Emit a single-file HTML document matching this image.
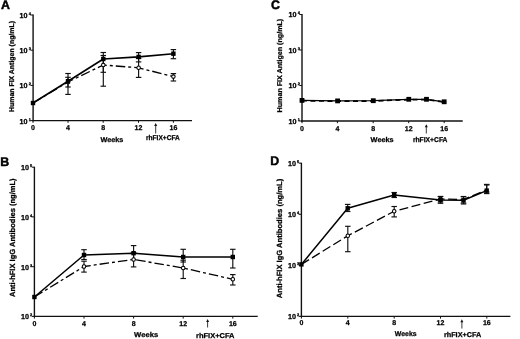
<!DOCTYPE html>
<html><head><meta charset="utf-8"><style>
html,body{margin:0;padding:0;background:#fff;}
svg{display:block;filter:grayscale(1) blur(0.3px);text-rendering:geometricPrecision;}
</style></head><body>
<svg width="520" height="339" viewBox="0 0 520 339">
<rect width="520" height="339" fill="#fff"/>
<text x="0.9" y="9.0" font-size="12.4" text-anchor="start" font-family="'Liberation Sans', sans-serif" font-weight="bold" stroke="#000" stroke-width="0.45" >A</text>
<line x1="33.1" y1="14.5" x2="33.1" y2="121.3" stroke="#111" stroke-width="1.4" stroke-linecap="butt"/>
<line x1="32.4" y1="120.6" x2="192.0" y2="120.6" stroke="#111" stroke-width="1.4" stroke-linecap="butt"/>
<line x1="30.5" y1="15" x2="33.1" y2="15" stroke="#111" stroke-width="1.0" stroke-linecap="butt"/>
<text x="27.6" y="17.9" font-size="7.2" text-anchor="end" font-family="'Liberation Sans', sans-serif" font-weight="bold" stroke="#000" stroke-width="0.25" >10</text>
<text x="28.8" y="14.9" font-size="3.9" text-anchor="start" font-family="'Liberation Sans', sans-serif" font-weight="bold" stroke="#000" stroke-width="0.25" >4</text>
<line x1="30.5" y1="50.2" x2="33.1" y2="50.2" stroke="#111" stroke-width="1.0" stroke-linecap="butt"/>
<text x="27.6" y="53.1" font-size="7.2" text-anchor="end" font-family="'Liberation Sans', sans-serif" font-weight="bold" stroke="#000" stroke-width="0.25" >10</text>
<text x="28.8" y="50.1" font-size="3.9" text-anchor="start" font-family="'Liberation Sans', sans-serif" font-weight="bold" stroke="#000" stroke-width="0.25" >3</text>
<line x1="30.5" y1="85.4" x2="33.1" y2="85.4" stroke="#111" stroke-width="1.0" stroke-linecap="butt"/>
<text x="27.6" y="88.30000000000001" font-size="7.2" text-anchor="end" font-family="'Liberation Sans', sans-serif" font-weight="bold" stroke="#000" stroke-width="0.25" >10</text>
<text x="28.8" y="85.30000000000001" font-size="3.9" text-anchor="start" font-family="'Liberation Sans', sans-serif" font-weight="bold" stroke="#000" stroke-width="0.25" >2</text>
<line x1="30.5" y1="120.6" x2="33.1" y2="120.6" stroke="#111" stroke-width="1.0" stroke-linecap="butt"/>
<text x="27.6" y="123.5" font-size="7.2" text-anchor="end" font-family="'Liberation Sans', sans-serif" font-weight="bold" stroke="#000" stroke-width="0.25" >10</text>
<text x="28.8" y="120.5" font-size="3.9" text-anchor="start" font-family="'Liberation Sans', sans-serif" font-weight="bold" stroke="#000" stroke-width="0.25" >1</text>
<line x1="33" y1="120.6" x2="33" y2="122.8" stroke="#111" stroke-width="1.0" stroke-linecap="butt"/>
<text x="33" y="130.2" font-size="7" text-anchor="middle" font-family="'Liberation Sans', sans-serif" font-weight="bold" stroke="#000" stroke-width="0.25" >0</text>
<line x1="68" y1="120.6" x2="68" y2="122.8" stroke="#111" stroke-width="1.0" stroke-linecap="butt"/>
<text x="68" y="130.2" font-size="7" text-anchor="middle" font-family="'Liberation Sans', sans-serif" font-weight="bold" stroke="#000" stroke-width="0.25" >4</text>
<line x1="103.2" y1="120.6" x2="103.2" y2="122.8" stroke="#111" stroke-width="1.0" stroke-linecap="butt"/>
<text x="103.2" y="130.2" font-size="7" text-anchor="middle" font-family="'Liberation Sans', sans-serif" font-weight="bold" stroke="#000" stroke-width="0.25" >8</text>
<line x1="138.5" y1="120.6" x2="138.5" y2="122.8" stroke="#111" stroke-width="1.0" stroke-linecap="butt"/>
<text x="138.5" y="130.2" font-size="7" text-anchor="middle" font-family="'Liberation Sans', sans-serif" font-weight="bold" stroke="#000" stroke-width="0.25" >12</text>
<line x1="173.4" y1="120.6" x2="173.4" y2="122.8" stroke="#111" stroke-width="1.0" stroke-linecap="butt"/>
<text x="173.4" y="130.2" font-size="7" text-anchor="middle" font-family="'Liberation Sans', sans-serif" font-weight="bold" stroke="#000" stroke-width="0.25" >16</text>
<text x="0" y="0" font-size="7" text-anchor="middle" font-family="'Liberation Sans', sans-serif" font-weight="bold" stroke="#000" stroke-width="0.25" textLength="91" lengthAdjust="spacingAndGlyphs" transform="translate(14.0,66.5) rotate(-90)">Human FIX Antigen (ng/mL)</text>
<text x="111.95" y="142.0" font-size="7" text-anchor="middle" font-family="'Liberation Sans', sans-serif" font-weight="bold" stroke="#000" stroke-width="0.25" textLength="22.900000000000006" lengthAdjust="spacingAndGlyphs">Weeks</text>
<text x="162.9" y="140.2" font-size="7" text-anchor="middle" font-family="'Liberation Sans', sans-serif" font-weight="bold" stroke="#000" stroke-width="0.25" textLength="33.80000000000001" lengthAdjust="spacingAndGlyphs">rhFIX+CFA</text>
<line x1="155.7" y1="125" x2="155.7" y2="133.5" stroke="#222" stroke-width="0.9" stroke-linecap="butt"/>
<path d="M154.2,126.0 L155.7,123 L157.2,126.0 Z" fill="#111"/>
<text x="0.3" y="165.6" font-size="12.4" text-anchor="start" font-family="'Liberation Sans', sans-serif" font-weight="bold" stroke="#000" stroke-width="0.45" >B</text>
<line x1="34.4" y1="166.7" x2="34.4" y2="317.09999999999997" stroke="#111" stroke-width="1.4" stroke-linecap="butt"/>
<line x1="33.699999999999996" y1="316.4" x2="257.7" y2="316.4" stroke="#111" stroke-width="1.4" stroke-linecap="butt"/>
<line x1="31.799999999999997" y1="167.2" x2="34.4" y2="167.2" stroke="#111" stroke-width="1.0" stroke-linecap="butt"/>
<text x="28.9" y="170.1" font-size="7.2" text-anchor="end" font-family="'Liberation Sans', sans-serif" font-weight="bold" stroke="#000" stroke-width="0.25" >10</text>
<text x="30.099999999999998" y="167.1" font-size="3.9" text-anchor="start" font-family="'Liberation Sans', sans-serif" font-weight="bold" stroke="#000" stroke-width="0.25" >5</text>
<line x1="31.799999999999997" y1="216.9" x2="34.4" y2="216.9" stroke="#111" stroke-width="1.0" stroke-linecap="butt"/>
<text x="28.9" y="219.8" font-size="7.2" text-anchor="end" font-family="'Liberation Sans', sans-serif" font-weight="bold" stroke="#000" stroke-width="0.25" >10</text>
<text x="30.099999999999998" y="216.8" font-size="3.9" text-anchor="start" font-family="'Liberation Sans', sans-serif" font-weight="bold" stroke="#000" stroke-width="0.25" >4</text>
<line x1="31.799999999999997" y1="266.7" x2="34.4" y2="266.7" stroke="#111" stroke-width="1.0" stroke-linecap="butt"/>
<text x="28.9" y="269.59999999999997" font-size="7.2" text-anchor="end" font-family="'Liberation Sans', sans-serif" font-weight="bold" stroke="#000" stroke-width="0.25" >10</text>
<text x="30.099999999999998" y="266.59999999999997" font-size="3.9" text-anchor="start" font-family="'Liberation Sans', sans-serif" font-weight="bold" stroke="#000" stroke-width="0.25" >3</text>
<line x1="31.799999999999997" y1="316.4" x2="34.4" y2="316.4" stroke="#111" stroke-width="1.0" stroke-linecap="butt"/>
<text x="28.9" y="319.29999999999995" font-size="7.2" text-anchor="end" font-family="'Liberation Sans', sans-serif" font-weight="bold" stroke="#000" stroke-width="0.25" >10</text>
<text x="30.099999999999998" y="316.29999999999995" font-size="3.9" text-anchor="start" font-family="'Liberation Sans', sans-serif" font-weight="bold" stroke="#000" stroke-width="0.25" >2</text>
<line x1="34.4" y1="316.4" x2="34.4" y2="318.59999999999997" stroke="#111" stroke-width="1.0" stroke-linecap="butt"/>
<text x="34.4" y="326.3" font-size="7" text-anchor="middle" font-family="'Liberation Sans', sans-serif" font-weight="bold" stroke="#000" stroke-width="0.25" >0</text>
<line x1="84" y1="316.4" x2="84" y2="318.59999999999997" stroke="#111" stroke-width="1.0" stroke-linecap="butt"/>
<text x="84" y="326.3" font-size="7" text-anchor="middle" font-family="'Liberation Sans', sans-serif" font-weight="bold" stroke="#000" stroke-width="0.25" >4</text>
<line x1="133.6" y1="316.4" x2="133.6" y2="318.59999999999997" stroke="#111" stroke-width="1.0" stroke-linecap="butt"/>
<text x="133.6" y="326.3" font-size="7" text-anchor="middle" font-family="'Liberation Sans', sans-serif" font-weight="bold" stroke="#000" stroke-width="0.25" >8</text>
<line x1="183.2" y1="316.4" x2="183.2" y2="318.59999999999997" stroke="#111" stroke-width="1.0" stroke-linecap="butt"/>
<text x="183.2" y="326.3" font-size="7" text-anchor="middle" font-family="'Liberation Sans', sans-serif" font-weight="bold" stroke="#000" stroke-width="0.25" >12</text>
<line x1="232.8" y1="316.4" x2="232.8" y2="318.59999999999997" stroke="#111" stroke-width="1.0" stroke-linecap="butt"/>
<text x="232.8" y="326.3" font-size="7" text-anchor="middle" font-family="'Liberation Sans', sans-serif" font-weight="bold" stroke="#000" stroke-width="0.25" >16</text>
<text x="0" y="0" font-size="7.5" text-anchor="middle" font-family="'Liberation Sans', sans-serif" font-weight="bold" stroke="#000" stroke-width="0.25" textLength="118.6" lengthAdjust="spacingAndGlyphs" transform="translate(14.7,237.7) rotate(-90)">Anti-hFIX IgG Antibodies (ng/mL)</text>
<text x="146.14999999999998" y="337.2" font-size="7" text-anchor="middle" font-family="'Liberation Sans', sans-serif" font-weight="bold" stroke="#000" stroke-width="0.25" textLength="24.099999999999994" lengthAdjust="spacingAndGlyphs">Weeks</text>
<text x="215.25" y="337.6" font-size="7" text-anchor="middle" font-family="'Liberation Sans', sans-serif" font-weight="bold" stroke="#000" stroke-width="0.25" textLength="38.5" lengthAdjust="spacingAndGlyphs">rhFIX+CFA</text>
<line x1="207.6" y1="321" x2="207.6" y2="327.5" stroke="#222" stroke-width="0.9" stroke-linecap="butt"/>
<path d="M206.1,322.0 L207.6,319 L209.1,322.0 Z" fill="#111"/>
<text x="271.0" y="9.0" font-size="12.4" text-anchor="start" font-family="'Liberation Sans', sans-serif" font-weight="bold" stroke="#000" stroke-width="0.45" >C</text>
<line x1="302.0" y1="14.0" x2="302.0" y2="121.7" stroke="#111" stroke-width="1.4" stroke-linecap="butt"/>
<line x1="301.3" y1="121.0" x2="462.7" y2="121.0" stroke="#111" stroke-width="1.4" stroke-linecap="butt"/>
<line x1="299.4" y1="14.5" x2="302.0" y2="14.5" stroke="#111" stroke-width="1.0" stroke-linecap="butt"/>
<text x="296.5" y="17.4" font-size="7.2" text-anchor="end" font-family="'Liberation Sans', sans-serif" font-weight="bold" stroke="#000" stroke-width="0.25" >10</text>
<text x="297.7" y="14.4" font-size="3.9" text-anchor="start" font-family="'Liberation Sans', sans-serif" font-weight="bold" stroke="#000" stroke-width="0.25" >4</text>
<line x1="299.4" y1="50.0" x2="302.0" y2="50.0" stroke="#111" stroke-width="1.0" stroke-linecap="butt"/>
<text x="296.5" y="52.9" font-size="7.2" text-anchor="end" font-family="'Liberation Sans', sans-serif" font-weight="bold" stroke="#000" stroke-width="0.25" >10</text>
<text x="297.7" y="49.9" font-size="3.9" text-anchor="start" font-family="'Liberation Sans', sans-serif" font-weight="bold" stroke="#000" stroke-width="0.25" >3</text>
<line x1="299.4" y1="85.5" x2="302.0" y2="85.5" stroke="#111" stroke-width="1.0" stroke-linecap="butt"/>
<text x="296.5" y="88.4" font-size="7.2" text-anchor="end" font-family="'Liberation Sans', sans-serif" font-weight="bold" stroke="#000" stroke-width="0.25" >10</text>
<text x="297.7" y="85.4" font-size="3.9" text-anchor="start" font-family="'Liberation Sans', sans-serif" font-weight="bold" stroke="#000" stroke-width="0.25" >2</text>
<line x1="299.4" y1="121.0" x2="302.0" y2="121.0" stroke="#111" stroke-width="1.0" stroke-linecap="butt"/>
<text x="296.5" y="123.9" font-size="7.2" text-anchor="end" font-family="'Liberation Sans', sans-serif" font-weight="bold" stroke="#000" stroke-width="0.25" >10</text>
<text x="297.7" y="120.9" font-size="3.9" text-anchor="start" font-family="'Liberation Sans', sans-serif" font-weight="bold" stroke="#000" stroke-width="0.25" >1</text>
<line x1="302.0" y1="121.0" x2="302.0" y2="123.2" stroke="#111" stroke-width="1.0" stroke-linecap="butt"/>
<text x="302.0" y="130.5" font-size="7" text-anchor="middle" font-family="'Liberation Sans', sans-serif" font-weight="bold" stroke="#000" stroke-width="0.25" >0</text>
<line x1="337.4" y1="121.0" x2="337.4" y2="123.2" stroke="#111" stroke-width="1.0" stroke-linecap="butt"/>
<text x="337.4" y="130.5" font-size="7" text-anchor="middle" font-family="'Liberation Sans', sans-serif" font-weight="bold" stroke="#000" stroke-width="0.25" >4</text>
<line x1="373.2" y1="121.0" x2="373.2" y2="123.2" stroke="#111" stroke-width="1.0" stroke-linecap="butt"/>
<text x="373.2" y="130.5" font-size="7" text-anchor="middle" font-family="'Liberation Sans', sans-serif" font-weight="bold" stroke="#000" stroke-width="0.25" >8</text>
<line x1="408.7" y1="121.0" x2="408.7" y2="123.2" stroke="#111" stroke-width="1.0" stroke-linecap="butt"/>
<text x="408.7" y="130.5" font-size="7" text-anchor="middle" font-family="'Liberation Sans', sans-serif" font-weight="bold" stroke="#000" stroke-width="0.25" >12</text>
<line x1="444.2" y1="121.0" x2="444.2" y2="123.2" stroke="#111" stroke-width="1.0" stroke-linecap="butt"/>
<text x="444.2" y="130.5" font-size="7" text-anchor="middle" font-family="'Liberation Sans', sans-serif" font-weight="bold" stroke="#000" stroke-width="0.25" >16</text>
<text x="0" y="0" font-size="7" text-anchor="middle" font-family="'Liberation Sans', sans-serif" font-weight="bold" stroke="#000" stroke-width="0.25" textLength="93.7" lengthAdjust="spacingAndGlyphs" transform="translate(282.4,65.6) rotate(-90)">Human FIX Antigen (ng/mL)</text>
<text x="382.15" y="142.0" font-size="7" text-anchor="middle" font-family="'Liberation Sans', sans-serif" font-weight="bold" stroke="#000" stroke-width="0.25" textLength="23.099999999999966" lengthAdjust="spacingAndGlyphs">Weeks</text>
<text x="430.2" y="141.6" font-size="7" text-anchor="middle" font-family="'Liberation Sans', sans-serif" font-weight="bold" stroke="#000" stroke-width="0.25" textLength="34.60000000000002" lengthAdjust="spacingAndGlyphs">rhFIX+CFA</text>
<line x1="426.3" y1="126.2" x2="426.3" y2="133.5" stroke="#222" stroke-width="0.9" stroke-linecap="butt"/>
<path d="M424.8,127.2 L426.3,124.2 L427.8,127.2 Z" fill="#111"/>
<text x="270.3" y="165.3" font-size="12.4" text-anchor="start" font-family="'Liberation Sans', sans-serif" font-weight="bold" stroke="#000" stroke-width="0.45" >D</text>
<line x1="301.4" y1="162.7" x2="301.4" y2="317.09999999999997" stroke="#111" stroke-width="1.4" stroke-linecap="butt"/>
<line x1="300.7" y1="316.4" x2="510.4" y2="316.4" stroke="#111" stroke-width="1.4" stroke-linecap="butt"/>
<line x1="298.79999999999995" y1="163.2" x2="301.4" y2="163.2" stroke="#111" stroke-width="1.0" stroke-linecap="butt"/>
<text x="295.9" y="166.1" font-size="7.2" text-anchor="end" font-family="'Liberation Sans', sans-serif" font-weight="bold" stroke="#000" stroke-width="0.25" >10</text>
<text x="297.09999999999997" y="163.1" font-size="3.9" text-anchor="start" font-family="'Liberation Sans', sans-serif" font-weight="bold" stroke="#000" stroke-width="0.25" >5</text>
<line x1="298.79999999999995" y1="214.3" x2="301.4" y2="214.3" stroke="#111" stroke-width="1.0" stroke-linecap="butt"/>
<text x="295.9" y="217.20000000000002" font-size="7.2" text-anchor="end" font-family="'Liberation Sans', sans-serif" font-weight="bold" stroke="#000" stroke-width="0.25" >10</text>
<text x="297.09999999999997" y="214.20000000000002" font-size="3.9" text-anchor="start" font-family="'Liberation Sans', sans-serif" font-weight="bold" stroke="#000" stroke-width="0.25" >4</text>
<line x1="298.79999999999995" y1="265.3" x2="301.4" y2="265.3" stroke="#111" stroke-width="1.0" stroke-linecap="butt"/>
<text x="295.9" y="268.2" font-size="7.2" text-anchor="end" font-family="'Liberation Sans', sans-serif" font-weight="bold" stroke="#000" stroke-width="0.25" >10</text>
<text x="297.09999999999997" y="265.2" font-size="3.9" text-anchor="start" font-family="'Liberation Sans', sans-serif" font-weight="bold" stroke="#000" stroke-width="0.25" >3</text>
<line x1="298.79999999999995" y1="316.4" x2="301.4" y2="316.4" stroke="#111" stroke-width="1.0" stroke-linecap="butt"/>
<text x="295.9" y="319.29999999999995" font-size="7.2" text-anchor="end" font-family="'Liberation Sans', sans-serif" font-weight="bold" stroke="#000" stroke-width="0.25" >10</text>
<text x="297.09999999999997" y="316.29999999999995" font-size="3.9" text-anchor="start" font-family="'Liberation Sans', sans-serif" font-weight="bold" stroke="#000" stroke-width="0.25" >2</text>
<line x1="301.4" y1="316.4" x2="301.4" y2="318.59999999999997" stroke="#111" stroke-width="1.0" stroke-linecap="butt"/>
<text x="301.4" y="325.2" font-size="7" text-anchor="middle" font-family="'Liberation Sans', sans-serif" font-weight="bold" stroke="#000" stroke-width="0.25" >0</text>
<line x1="347.8" y1="316.4" x2="347.8" y2="318.59999999999997" stroke="#111" stroke-width="1.0" stroke-linecap="butt"/>
<text x="347.8" y="325.2" font-size="7" text-anchor="middle" font-family="'Liberation Sans', sans-serif" font-weight="bold" stroke="#000" stroke-width="0.25" >4</text>
<line x1="394.2" y1="316.4" x2="394.2" y2="318.59999999999997" stroke="#111" stroke-width="1.0" stroke-linecap="butt"/>
<text x="394.2" y="325.2" font-size="7" text-anchor="middle" font-family="'Liberation Sans', sans-serif" font-weight="bold" stroke="#000" stroke-width="0.25" >8</text>
<line x1="440.5" y1="316.4" x2="440.5" y2="318.59999999999997" stroke="#111" stroke-width="1.0" stroke-linecap="butt"/>
<text x="440.5" y="325.2" font-size="7" text-anchor="middle" font-family="'Liberation Sans', sans-serif" font-weight="bold" stroke="#000" stroke-width="0.25" >12</text>
<line x1="486.8" y1="316.4" x2="486.8" y2="318.59999999999997" stroke="#111" stroke-width="1.0" stroke-linecap="butt"/>
<text x="486.8" y="325.2" font-size="7" text-anchor="middle" font-family="'Liberation Sans', sans-serif" font-weight="bold" stroke="#000" stroke-width="0.25" >16</text>
<text x="0" y="0" font-size="7.5" text-anchor="middle" font-family="'Liberation Sans', sans-serif" font-weight="bold" stroke="#000" stroke-width="0.25" textLength="119.5" lengthAdjust="spacingAndGlyphs" transform="translate(282.0,238.5) rotate(-90)">Anti-hFIX IgG Antibodies (ng/mL)</text>
<text x="405.70000000000005" y="335.6" font-size="7" text-anchor="middle" font-family="'Liberation Sans', sans-serif" font-weight="bold" stroke="#000" stroke-width="0.25" textLength="21.80000000000001" lengthAdjust="spacingAndGlyphs">Weeks</text>
<text x="462.6" y="337.0" font-size="7" text-anchor="middle" font-family="'Liberation Sans', sans-serif" font-weight="bold" stroke="#000" stroke-width="0.25" textLength="37.400000000000034" lengthAdjust="spacingAndGlyphs">rhFIX+CFA</text>
<line x1="461.9" y1="321.3" x2="461.9" y2="328.5" stroke="#222" stroke-width="0.9" stroke-linecap="butt"/>
<path d="M460.4,322.3 L461.9,319.3 L463.4,322.3 Z" fill="#111"/>
<polyline points="33,103 68,82 103.3,65 138.6,67.8 173.4,76.6" fill="none" stroke="#000" stroke-width="1.3" stroke-linejoin="round" stroke-dasharray="9.5,3,3,3"/>
<polyline points="33,103 68,81.2 103.3,59 138.6,56.9 173.4,53.7" fill="none" stroke="#000" stroke-width="1.6" stroke-linejoin="round"/>
<line x1="68" y1="77.3" x2="68" y2="94.4" stroke="#111" stroke-width="1.15" stroke-linecap="butt"/>
<line x1="65.25" y1="77.3" x2="70.75" y2="77.3" stroke="#111" stroke-width="1.15" stroke-linecap="butt"/>
<line x1="65.25" y1="94.4" x2="70.75" y2="94.4" stroke="#111" stroke-width="1.15" stroke-linecap="butt"/>
<line x1="103.3" y1="55.5" x2="103.3" y2="86.2" stroke="#111" stroke-width="1.15" stroke-linecap="butt"/>
<line x1="100.55" y1="55.5" x2="106.05" y2="55.5" stroke="#111" stroke-width="1.15" stroke-linecap="butt"/>
<line x1="100.55" y1="86.2" x2="106.05" y2="86.2" stroke="#111" stroke-width="1.15" stroke-linecap="butt"/>
<line x1="138.6" y1="58.5" x2="138.6" y2="77.4" stroke="#111" stroke-width="1.15" stroke-linecap="butt"/>
<line x1="135.85" y1="58.5" x2="141.35" y2="58.5" stroke="#111" stroke-width="1.15" stroke-linecap="butt"/>
<line x1="135.85" y1="77.4" x2="141.35" y2="77.4" stroke="#111" stroke-width="1.15" stroke-linecap="butt"/>
<line x1="173.4" y1="73.6" x2="173.4" y2="81" stroke="#111" stroke-width="1.15" stroke-linecap="butt"/>
<line x1="170.65" y1="73.6" x2="176.15" y2="73.6" stroke="#111" stroke-width="1.15" stroke-linecap="butt"/>
<line x1="170.65" y1="81" x2="176.15" y2="81" stroke="#111" stroke-width="1.15" stroke-linecap="butt"/>
<line x1="68" y1="73.5" x2="68" y2="87" stroke="#111" stroke-width="1.15" stroke-linecap="butt"/>
<line x1="65.25" y1="73.5" x2="70.75" y2="73.5" stroke="#111" stroke-width="1.15" stroke-linecap="butt"/>
<line x1="65.25" y1="87" x2="70.75" y2="87" stroke="#111" stroke-width="1.15" stroke-linecap="butt"/>
<line x1="103.3" y1="52.5" x2="103.3" y2="72.3" stroke="#111" stroke-width="1.15" stroke-linecap="butt"/>
<line x1="100.55" y1="52.5" x2="106.05" y2="52.5" stroke="#111" stroke-width="1.15" stroke-linecap="butt"/>
<line x1="100.55" y1="72.3" x2="106.05" y2="72.3" stroke="#111" stroke-width="1.15" stroke-linecap="butt"/>
<line x1="138.6" y1="52.6" x2="138.6" y2="61.9" stroke="#111" stroke-width="1.15" stroke-linecap="butt"/>
<line x1="135.85" y1="52.6" x2="141.35" y2="52.6" stroke="#111" stroke-width="1.15" stroke-linecap="butt"/>
<line x1="135.85" y1="61.9" x2="141.35" y2="61.9" stroke="#111" stroke-width="1.15" stroke-linecap="butt"/>
<line x1="173.4" y1="49.6" x2="173.4" y2="58.7" stroke="#111" stroke-width="1.15" stroke-linecap="butt"/>
<line x1="170.65" y1="49.6" x2="176.15" y2="49.6" stroke="#111" stroke-width="1.15" stroke-linecap="butt"/>
<line x1="170.65" y1="58.7" x2="176.15" y2="58.7" stroke="#111" stroke-width="1.15" stroke-linecap="butt"/>
<circle cx="68" cy="82" r="1.75" fill="#fff" stroke="#000" stroke-width="1.05"/>
<circle cx="103.3" cy="65" r="1.75" fill="#fff" stroke="#000" stroke-width="1.05"/>
<circle cx="138.6" cy="67.8" r="1.75" fill="#fff" stroke="#000" stroke-width="1.05"/>
<circle cx="173.4" cy="76.6" r="1.75" fill="#fff" stroke="#000" stroke-width="1.05"/>
<rect x="30.8" y="100.8" width="4.4" height="4.4" fill="#000"/>
<rect x="65.8" y="79.0" width="4.4" height="4.4" fill="#000"/>
<rect x="101.1" y="56.8" width="4.4" height="4.4" fill="#000"/>
<rect x="136.4" y="54.699999999999996" width="4.4" height="4.4" fill="#000"/>
<rect x="171.20000000000002" y="51.5" width="4.4" height="4.4" fill="#000"/>
<polyline points="34.4,297 84,266.5 133.6,259.4 183.2,268 232.8,279.3" fill="none" stroke="#000" stroke-width="1.3" stroke-linejoin="round" stroke-dasharray="9.5,3,3,3"/>
<polyline points="34.4,297 84,255 133.6,253.2 183.2,257 232.8,257" fill="none" stroke="#000" stroke-width="1.5" stroke-linejoin="round"/>
<line x1="84" y1="261.2" x2="84" y2="272.1" stroke="#111" stroke-width="1.15" stroke-linecap="butt"/>
<line x1="81.25" y1="261.2" x2="86.75" y2="261.2" stroke="#111" stroke-width="1.15" stroke-linecap="butt"/>
<line x1="81.25" y1="272.1" x2="86.75" y2="272.1" stroke="#111" stroke-width="1.15" stroke-linecap="butt"/>
<line x1="133.6" y1="252.5" x2="133.6" y2="266.9" stroke="#111" stroke-width="1.15" stroke-linecap="butt"/>
<line x1="130.85" y1="252.5" x2="136.35" y2="252.5" stroke="#111" stroke-width="1.15" stroke-linecap="butt"/>
<line x1="130.85" y1="266.9" x2="136.35" y2="266.9" stroke="#111" stroke-width="1.15" stroke-linecap="butt"/>
<line x1="183.2" y1="260.2" x2="183.2" y2="278.5" stroke="#111" stroke-width="1.15" stroke-linecap="butt"/>
<line x1="180.45" y1="260.2" x2="185.95" y2="260.2" stroke="#111" stroke-width="1.15" stroke-linecap="butt"/>
<line x1="180.45" y1="278.5" x2="185.95" y2="278.5" stroke="#111" stroke-width="1.15" stroke-linecap="butt"/>
<line x1="232.8" y1="274.6" x2="232.8" y2="285" stroke="#111" stroke-width="1.15" stroke-linecap="butt"/>
<line x1="230.05" y1="274.6" x2="235.55" y2="274.6" stroke="#111" stroke-width="1.15" stroke-linecap="butt"/>
<line x1="230.05" y1="285" x2="235.55" y2="285" stroke="#111" stroke-width="1.15" stroke-linecap="butt"/>
<line x1="84" y1="249.7" x2="84" y2="259.5" stroke="#111" stroke-width="1.15" stroke-linecap="butt"/>
<line x1="81.25" y1="249.7" x2="86.75" y2="249.7" stroke="#111" stroke-width="1.15" stroke-linecap="butt"/>
<line x1="81.25" y1="259.5" x2="86.75" y2="259.5" stroke="#111" stroke-width="1.15" stroke-linecap="butt"/>
<line x1="133.6" y1="245.6" x2="133.6" y2="259.5" stroke="#111" stroke-width="1.15" stroke-linecap="butt"/>
<line x1="130.85" y1="245.6" x2="136.35" y2="245.6" stroke="#111" stroke-width="1.15" stroke-linecap="butt"/>
<line x1="130.85" y1="259.5" x2="136.35" y2="259.5" stroke="#111" stroke-width="1.15" stroke-linecap="butt"/>
<line x1="183.2" y1="249.3" x2="183.2" y2="262" stroke="#111" stroke-width="1.15" stroke-linecap="butt"/>
<line x1="180.45" y1="249.3" x2="185.95" y2="249.3" stroke="#111" stroke-width="1.15" stroke-linecap="butt"/>
<line x1="180.45" y1="262" x2="185.95" y2="262" stroke="#111" stroke-width="1.15" stroke-linecap="butt"/>
<line x1="232.8" y1="249.3" x2="232.8" y2="268" stroke="#111" stroke-width="1.15" stroke-linecap="butt"/>
<line x1="230.05" y1="249.3" x2="235.55" y2="249.3" stroke="#111" stroke-width="1.15" stroke-linecap="butt"/>
<line x1="230.05" y1="268" x2="235.55" y2="268" stroke="#111" stroke-width="1.15" stroke-linecap="butt"/>
<circle cx="84" cy="266.5" r="1.75" fill="#fff" stroke="#000" stroke-width="1.05"/>
<circle cx="133.6" cy="259.4" r="1.75" fill="#fff" stroke="#000" stroke-width="1.05"/>
<circle cx="183.2" cy="268" r="1.75" fill="#fff" stroke="#000" stroke-width="1.05"/>
<circle cx="232.8" cy="279.3" r="1.75" fill="#fff" stroke="#000" stroke-width="1.05"/>
<rect x="32.199999999999996" y="294.8" width="4.4" height="4.4" fill="#000"/>
<rect x="81.8" y="252.8" width="4.4" height="4.4" fill="#000"/>
<rect x="131.4" y="251.0" width="4.4" height="4.4" fill="#000"/>
<rect x="181.0" y="254.8" width="4.4" height="4.4" fill="#000"/>
<rect x="230.60000000000002" y="254.8" width="4.4" height="4.4" fill="#000"/>
<polyline points="302.0,100.4 337.6,100.9 373.3,100.7 408.8,99.3 426.5,99.3 444.2,101.8" fill="none" stroke="#000" stroke-width="1.2" stroke-linejoin="round"/>
<polyline points="302.0,100.7 337.6,101.2 373.3,101.0 408.8,99.6 426.5,99.6 444.2,102.1" fill="none" stroke="#000" stroke-width="1.7" stroke-linejoin="round" stroke-dasharray="5,3.5"/>
<rect x="299.6" y="98.0" width="4.8" height="4.8" fill="#000"/>
<rect x="335.20000000000005" y="98.5" width="4.8" height="4.8" fill="#000"/>
<rect x="370.90000000000003" y="98.3" width="4.8" height="4.8" fill="#000"/>
<rect x="406.40000000000003" y="96.89999999999999" width="4.8" height="4.8" fill="#000"/>
<rect x="424.1" y="96.89999999999999" width="4.8" height="4.8" fill="#000"/>
<rect x="441.8" y="99.39999999999999" width="4.8" height="4.8" fill="#000"/>
<polyline points="301.4,264.4 347.8,235.8 394.2,211.2 440.5,199 463.5,199.4 486.7,190.0" fill="none" stroke="#000" stroke-width="1.3" stroke-linejoin="round" stroke-dasharray="9,3.5"/>
<polyline points="301.4,264.4 347.7,208.3 394.2,195 440.5,200 463.5,200.3 486.7,190.6" fill="none" stroke="#000" stroke-width="1.5" stroke-linejoin="round"/>
<line x1="347.8" y1="226.3" x2="347.8" y2="251.7" stroke="#111" stroke-width="1.15" stroke-linecap="butt"/>
<line x1="345.05" y1="226.3" x2="350.55" y2="226.3" stroke="#111" stroke-width="1.15" stroke-linecap="butt"/>
<line x1="345.05" y1="251.7" x2="350.55" y2="251.7" stroke="#111" stroke-width="1.15" stroke-linecap="butt"/>
<line x1="394.2" y1="206.5" x2="394.2" y2="216.9" stroke="#111" stroke-width="1.15" stroke-linecap="butt"/>
<line x1="391.45" y1="206.5" x2="396.95" y2="206.5" stroke="#111" stroke-width="1.15" stroke-linecap="butt"/>
<line x1="391.45" y1="216.9" x2="396.95" y2="216.9" stroke="#111" stroke-width="1.15" stroke-linecap="butt"/>
<line x1="440.5" y1="196.5" x2="440.5" y2="202" stroke="#111" stroke-width="1.15" stroke-linecap="butt"/>
<line x1="437.75" y1="196.5" x2="443.25" y2="196.5" stroke="#111" stroke-width="1.15" stroke-linecap="butt"/>
<line x1="437.75" y1="202" x2="443.25" y2="202" stroke="#111" stroke-width="1.15" stroke-linecap="butt"/>
<line x1="463.5" y1="196.5" x2="463.5" y2="203" stroke="#111" stroke-width="1.15" stroke-linecap="butt"/>
<line x1="460.75" y1="196.5" x2="466.25" y2="196.5" stroke="#111" stroke-width="1.15" stroke-linecap="butt"/>
<line x1="460.75" y1="203" x2="466.25" y2="203" stroke="#111" stroke-width="1.15" stroke-linecap="butt"/>
<line x1="486.7" y1="185" x2="486.7" y2="192" stroke="#111" stroke-width="1.15" stroke-linecap="butt"/>
<line x1="483.95" y1="185" x2="489.45" y2="185" stroke="#111" stroke-width="1.15" stroke-linecap="butt"/>
<line x1="483.95" y1="192" x2="489.45" y2="192" stroke="#111" stroke-width="1.15" stroke-linecap="butt"/>
<line x1="347.7" y1="204.4" x2="347.7" y2="211.5" stroke="#111" stroke-width="1.15" stroke-linecap="butt"/>
<line x1="344.95" y1="204.4" x2="350.45" y2="204.4" stroke="#111" stroke-width="1.15" stroke-linecap="butt"/>
<line x1="344.95" y1="211.5" x2="350.45" y2="211.5" stroke="#111" stroke-width="1.15" stroke-linecap="butt"/>
<line x1="394.2" y1="192.5" x2="394.2" y2="197.5" stroke="#111" stroke-width="1.15" stroke-linecap="butt"/>
<line x1="391.45" y1="192.5" x2="396.95" y2="192.5" stroke="#111" stroke-width="1.15" stroke-linecap="butt"/>
<line x1="391.45" y1="197.5" x2="396.95" y2="197.5" stroke="#111" stroke-width="1.15" stroke-linecap="butt"/>
<line x1="440.5" y1="196.5" x2="440.5" y2="203.3" stroke="#111" stroke-width="1.15" stroke-linecap="butt"/>
<line x1="437.75" y1="196.5" x2="443.25" y2="196.5" stroke="#111" stroke-width="1.15" stroke-linecap="butt"/>
<line x1="437.75" y1="203.3" x2="443.25" y2="203.3" stroke="#111" stroke-width="1.15" stroke-linecap="butt"/>
<line x1="463.5" y1="196.8" x2="463.5" y2="204" stroke="#111" stroke-width="1.15" stroke-linecap="butt"/>
<line x1="460.75" y1="196.8" x2="466.25" y2="196.8" stroke="#111" stroke-width="1.15" stroke-linecap="butt"/>
<line x1="460.75" y1="204" x2="466.25" y2="204" stroke="#111" stroke-width="1.15" stroke-linecap="butt"/>
<line x1="486.7" y1="184.4" x2="486.7" y2="193.6" stroke="#111" stroke-width="1.15" stroke-linecap="butt"/>
<line x1="483.95" y1="184.4" x2="489.45" y2="184.4" stroke="#111" stroke-width="1.15" stroke-linecap="butt"/>
<line x1="483.95" y1="193.6" x2="489.45" y2="193.6" stroke="#111" stroke-width="1.15" stroke-linecap="butt"/>
<circle cx="347.8" cy="235.8" r="1.75" fill="#fff" stroke="#000" stroke-width="1.05"/>
<circle cx="394.2" cy="211.2" r="1.75" fill="#fff" stroke="#000" stroke-width="1.05"/>
<circle cx="440.5" cy="199" r="1.75" fill="#fff" stroke="#000" stroke-width="1.05"/>
<rect x="299.2" y="262.2" width="4.4" height="4.4" fill="#000"/>
<rect x="345.5" y="206.10000000000002" width="4.4" height="4.4" fill="#000"/>
<rect x="392.0" y="192.8" width="4.4" height="4.4" fill="#000"/>
<rect x="438.3" y="197.8" width="4.4" height="4.4" fill="#000"/>
<rect x="461.3" y="198.10000000000002" width="4.4" height="4.4" fill="#000"/>
<rect x="484.5" y="188.4" width="4.4" height="4.4" fill="#000"/>
</svg>
</body></html>
